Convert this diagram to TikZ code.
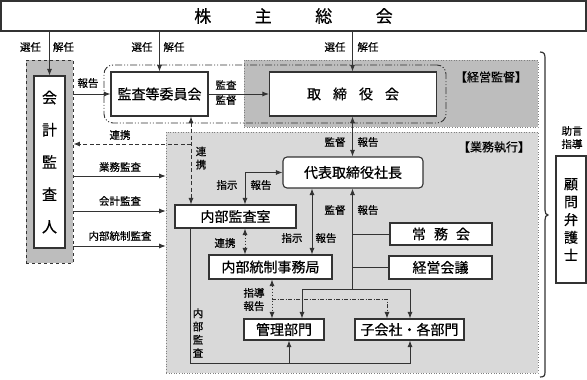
\documentclass[tikz,border=0pt]{standalone}
\usepackage{fontspec}
\setmainfont{Noto Sans CJK JP}[FakeBold=0.5]
\usetikzlibrary{arrows.meta,calc}
\definecolor{darkreg}{HTML}{BDBDBD}
\definecolor{lightreg}{HTML}{D9D9D9}
\definecolor{ln}{HTML}{333333}
\newcommand{\fsz}[2]{\fontsize{#1}{#2}\selectfont}
\begin{document}
\begin{tikzpicture}[x=1pt,y=-1pt,
  box/.style={draw=ln, line width=1.1pt, fill=white, inner sep=0pt, font=\fsz{14}{16}},
  region/.style={draw=gray, dotted, line width=0.6pt, inner sep=0pt},
  lab/.style={font=\fsz{10.5}{12}, inner sep=0pt, text=black},
  vlab/.style={font=\fsz{10.5}{13.2}, inner sep=0pt, align=center},
  con/.style={draw=ln, line width=0.9pt},
  tip/.style={-{Latex[length=6.5pt,width=5pt]}},
  bitip/.style={{Latex[length=6.5pt,width=5pt]}-{Latex[length=6.5pt,width=5pt]}},
  groupline/.style={draw=ln, line width=0.9pt, rounded corners=9pt,
    dash pattern=on 7pt off 2pt on 1pt off 2pt on 1pt off 2pt},
  dashline/.style={dash pattern=on 4pt off 2.5pt},
  dotline/.style={dash pattern=on 1.5pt off 1.5pt},
  dashdotline/.style={dash pattern=on 4pt off 1.5pt on 1pt off 1.5pt}
]
\useasboundingbox (0,0) rectangle (587,380);

% regions
\node[region, fill=darkreg, minimum width=294pt, minimum height=67pt] (dark) at (391,93.5) {};
\node[region, fill=lightreg, minimum width=372pt, minimum height=241pt] (light) at (352,252.5) {};
\node[draw=ln, dashed, line width=0.9pt, fill=darkreg, minimum width=47pt, minimum height=203pt, inner sep=0pt] (kansa) at (49.5,161.5) {};
\node[groupline, minimum width=342pt, minimum height=58pt, inner sep=0pt] (grp) at (275,94) {};

% region labels
\node[font=\fsz{12}{14}, inner sep=0pt] (lkeiei) at (491,77) {【経営監督】};
\node[font=\fsz{12}{14}, inner sep=0pt] (lgyomu) at (494,147) {【業務執行】};

% boxes
\node[box, font=\fsz{17}{19}, minimum width=585pt, minimum height=30pt] (soukai) at (293.5,16)
  {株\hspace{43.5pt}主\hspace{43.5pt}総\hspace{43.5pt}会};
\node[box, font=\fsz{15}{32.3}, align=center, minimum width=31pt, minimum height=172pt] (kaikei) at (49.5,162)
  {会\\計\\監\\査\\人};
\node[box, minimum width=97pt, minimum height=44pt] (iinkai) at (159.5,94) {監査等委員会};
\node[box, minimum width=167pt, minimum height=44pt] (tori) at (353,94)
  {取\hspace{12pt}締\hspace{12pt}役\hspace{12pt}会};
\node[box, rounded corners=4pt, minimum width=140pt, minimum height=31pt] (shacho) at (353,172.5) {代表取締役社長};
\node[box, minimum width=121pt, minimum height=23pt] (naibu) at (235.5,216.5) {内部監査室};
\node[box, minimum width=123pt, minimum height=24pt] (jimu) at (270.5,267) {内部統制事務局};
\node[box, minimum width=102pt, minimum height=22pt] (joumu) at (441,234)
  {常\hspace{8pt}務\hspace{8pt}会};
\node[box, minimum width=103pt, minimum height=23pt] (keiei) at (440.5,267.5) {経営会議};
\node[box, minimum width=80pt, minimum height=21pt] (kanri) at (284,329.5) {管理部門};
\node[box, minimum width=109pt, minimum height=21pt] (kogai) at (409.5,329.5) {子会社・各部門};
\node[box, font=\fsz{14}{17.8}, align=center, minimum width=30pt, minimum height=127pt] (bengo) at (571,219.5)
  {顧\\問\\弁\\護\\士};

% coordinates
\coordinate (x160) at (159.5,0);
\coordinate (x191) at (191,0);
\coordinate (y144) at (0,144);
\coordinate (y176) at (0,176);
\coordinate (y211) at (0,211);
\coordinate (y246) at (0,246);
\coordinate (x245) at (245,0);
\coordinate (x312) at (312,0);
\coordinate (x352) at (352.5,0);
\coordinate (y289) at (0,289);
\coordinate (x302) at (302,0);
\coordinate (x410) at (410,0);
\coordinate (x272) at (272,0);
\coordinate (y299) at (0,299);
\coordinate (x387) at (387,0);
\coordinate (x190) at (190,0);
\coordinate (y363) at (0,363);
\coordinate (x289) at (289,0);

% connectors from general meeting
\draw[con, tip] (soukai.south -| kaikei.north) -- (kaikei.north);
\draw[con, tip] (soukai.south -| x160) -- (iinkai.north -| x160);
\draw[con, tip] (soukai.south -| x352) -- (tori.north -| x352);

% top area
\draw[con, tip] (kansa.east |- iinkai.west) -- (iinkai.west);
\draw[con, tip] (iinkai.east) -- (tori.west);
\draw[con, bitip] (tori.south -| x352) -- (shacho.north -| x352);

% renkei dashed
\draw[con, dashline, bitip] (iinkai.south -| x191) -- (naibu.north -| x191);
\draw[con, dashline, tip] (x191 |- y144) -- (kansa.east |- y144);

% audits
\draw[con, tip] (kansa.east |- y176) -- (light.west |- y176);
\draw[con, tip] (kansa.east |- y211) -- (light.west |- y211);
\draw[con, tip] (kansa.east |- y246) -- (light.west |- y246);

% president relations
\draw[con, bitip] (naibu.north -| x245) |- (shacho.west);
\draw[con, bitip] (shacho.south -| x312) -- (jimu.north -| x312);
\draw[con, tip] (x352 |- y289) -- (shacho.south -| x352);
\draw[con] (joumu.west) -- (joumu.west -| x352);
\draw[con] (keiei.west) -- (keiei.west -| x352);
\draw[con, tip] (x352 |- y289) -| (kanri.north -| x302);
\draw[con, tip] (x352 |- y289) -| (kogai.north -| x410);

% internal control
\draw[con, dotline, bitip] (naibu.south -| x245) -- (jimu.north -| x245);
\draw[con, dotline, bitip] (jimu.south -| x272) -- (kanri.north -| x272);
\draw[con, dashdotline, tip] (x272 |- y299) -| (kogai.north -| x387);

% internal audit
\draw[con, tip] (naibu.south -| x190) |- (x410 |- y363) -- (kogai.south -| x410);
\draw[con, tip] (x289 |- y363) -- (kanri.south -| x289);

% brace
\draw[ln, line width=1.2pt] (540,52) .. controls (544,52) and (545,54) .. (545,58) -- (545,210)
  .. controls (545,213) and (546,215) .. (548,215) .. controls (546,215) and (545,217) .. (545,220)
  -- (545,372) .. controls (545,376) and (544,377) .. (540,377);

% labels
\node[lab] (l1a) at (30.5,47) {選任};
\node[lab] (l1b) at (63.5,47) {解任};
\node[lab] (l2a) at (142,47) {選任};
\node[lab] (l2b) at (174,47) {解任};
\node[lab] (l3a) at (335,47) {選任};
\node[lab] (l3b) at (368,47) {解任};
\node[lab] (lhoukoku1) at (88,83) {報告};
\node[lab] (lkansa) at (226,85) {監査};
\node[lab] (lkantoku) at (226,100) {監督};
\node[lab] (lrenkei1) at (120,135) {連携};
\node[vlab] (lrenkei2) at (201,158) {連\\携};
\node[lab] (lgm) at (120,167) {業務監査};
\node[lab] (lkk) at (120,201) {会計監査};
\node[lab] (lnt) at (120,236) {内部統制監査};
\node[lab] (lk2) at (335,142) {監督};
\node[lab] (lh2) at (368,142) {報告};
\node[lab] (ls3) at (227,185) {指示};
\node[lab] (lh3) at (261,185) {報告};
\node[lab] (ls4) at (292,238) {指示};
\node[lab] (lh4) at (326,238) {報告};
\node[lab] (lk5) at (335,210) {監督};
\node[lab] (lh5) at (368,210) {報告};
\node[lab] (lrenkei3) at (225,243) {連携};
\node[vlab] (lshidou) at (254,299.5) {指導\\報告};
\node[vlab] (lnaibu) at (198,333) {内\\部\\監\\査};
\node[vlab] (ljogen) at (572,137.5) {助言\\指導};
\end{tikzpicture}
\end{document}
